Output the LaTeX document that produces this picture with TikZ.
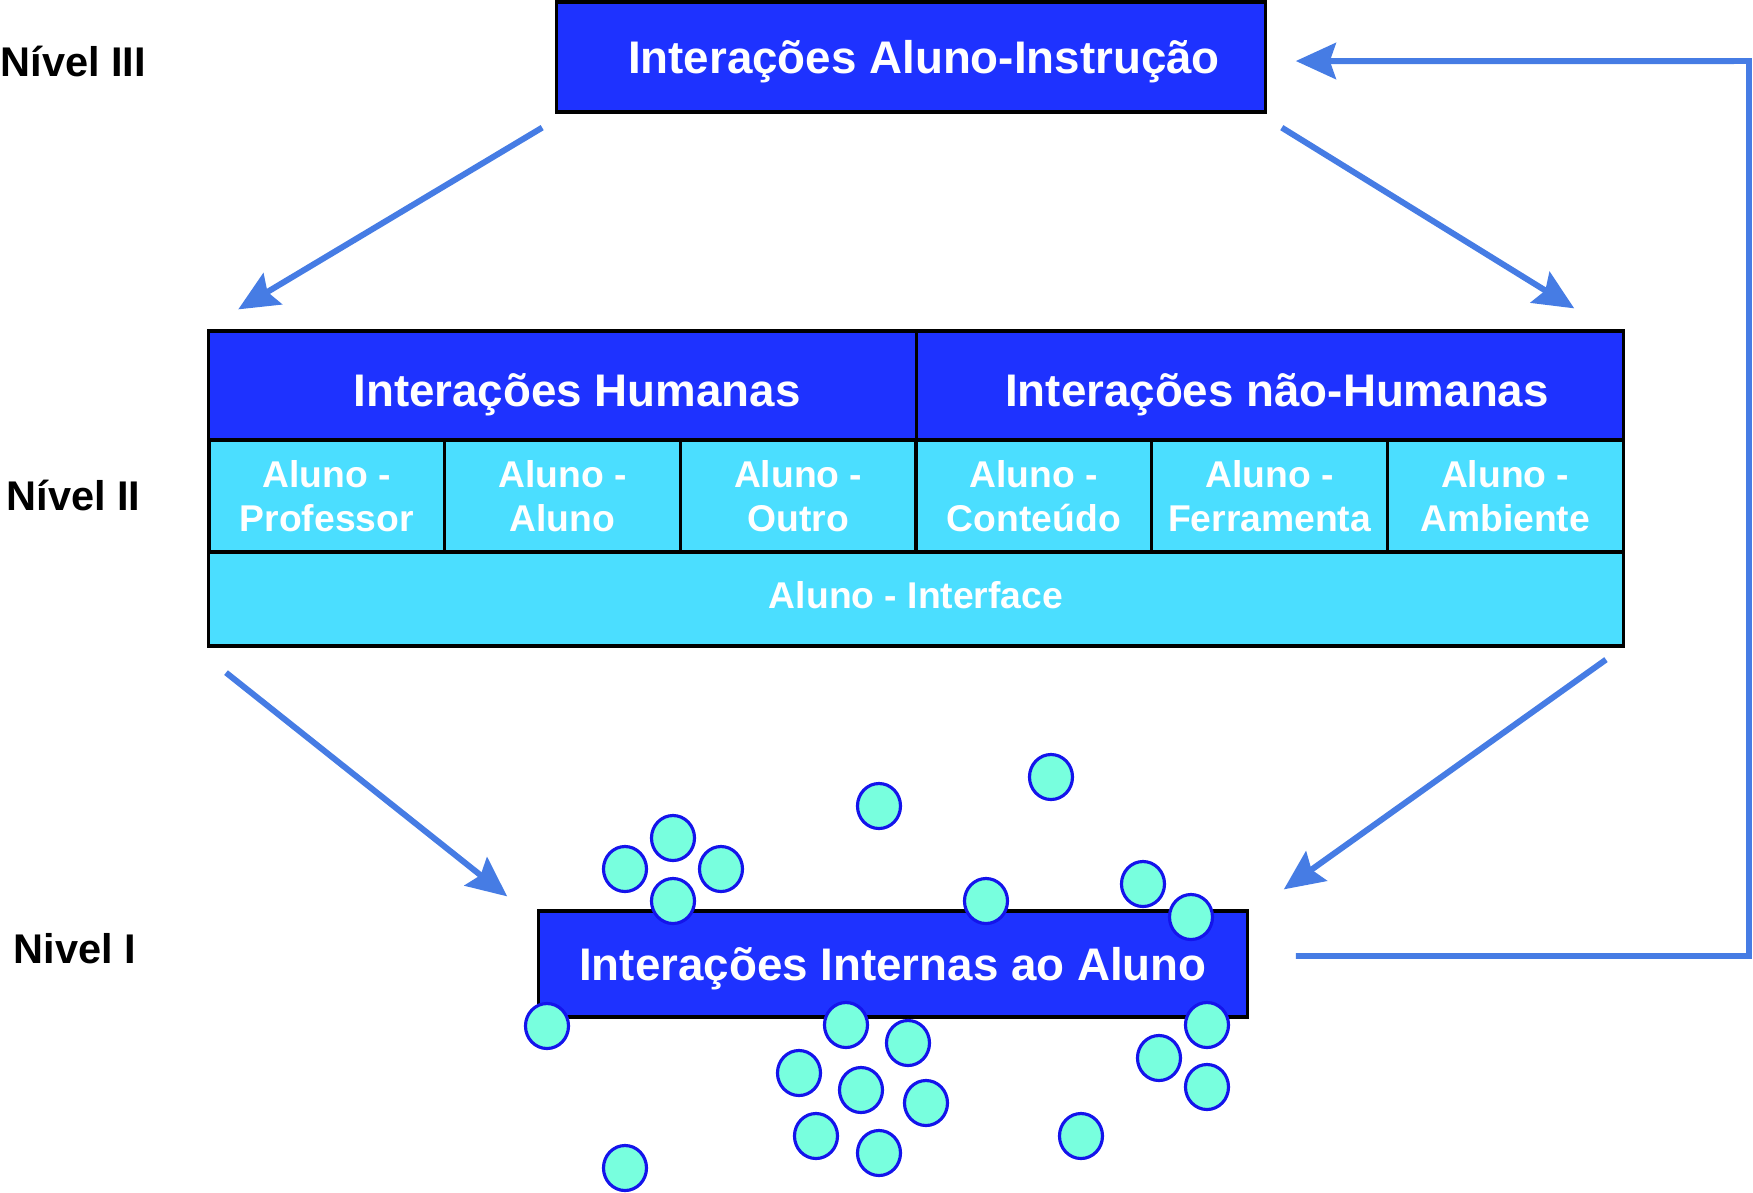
\documentclass[tikz,border=0pt]{standalone}
\usepackage{fontspec}
\setmainfont{Liberation Sans}
\usetikzlibrary{arrows.meta,shapes.geometric}
\definecolor{boxblue}{RGB}{30,50,255}
\definecolor{boxcyan}{RGB}{75,222,255}
\definecolor{flowblue}{RGB}{70,124,228}
\definecolor{dotfill}{RGB}{120,255,222}
\definecolor{dotline}{RGB}{20,20,235}

\begin{document}
\begin{tikzpicture}[x=0.01cm, y=-0.01cm,
  darkbox/.style={rectangle, draw=black, line width=0.9pt, fill=boxblue, text=white, inner sep=0pt, font=\fontsize{13}{15.6}\selectfont\bfseries, text height=9.3pt, text depth=0pt},
  cellbox/.style={rectangle, draw=black, line width=0.9pt, fill=boxcyan, text=white, inner sep=0pt, align=center, font=\fontsize{10.6}{12.6}\selectfont\bfseries},
  levellabel/.style={anchor=base west, inner sep=0pt, font=\fontsize{11.8}{14}\selectfont\bfseries},
  flow/.style={draw=flowblue, line width=1.7pt, -{Stealth[length=0.40cm, width=0.36cm, inset=0.06cm]}},
  dot/.style={ellipse, draw=dotline, line width=0.9pt, fill=dotfill, minimum width=0.43cm, minimum height=0.45cm, inner sep=0pt}]

\useasboundingbox (0,0) rectangle (1753,1193);

% levels
\node[levellabel] (lvl3) at (0,76) {Nível III};
\node[levellabel] (lvl2) at (6,510) {Nível II};
\node[levellabel] (lvl1) at (13,963) {Nivel I};

% level III
\node[darkbox, minimum width=7.08cm, minimum height=1.10cm] (instr) at (911,57) {\hspace*{0.26cm}Interações Aluno-Instrução};

% level II
\node[darkbox, minimum width=7.08cm, minimum height=1.09cm, text height=11.8pt] (hum) at (563,385.5) {\hspace*{0.28cm}Interações Humanas};
\node[darkbox, minimum width=7.07cm, minimum height=1.09cm, text height=11.8pt] (nhum) at (1270,385.5) {\hspace*{0.14cm}Interações não-Humanas};
\foreach \txt [count=\i] in {Professor, Aluno, Outro, Conteúdo, Ferramenta, Ambiente}
  \node[cellbox, minimum width=2.357cm, minimum height=1.12cm] (cell\i) at (209+235.67*\i-117.83, 496) {Aluno -\\\txt};
\node[cellbox, minimum width=14.14cm, minimum height=0.94cm, text depth=0.25em] (iface) at (916,599) {Aluno - Interface};

% level I
\node[darkbox, minimum width=7.08cm, minimum height=1.06cm] (intern) at (893,964) {Interações Internas ao Aluno};

% particles
\foreach \px/\py [count=\k] in {1051/777, 879/806, 673/838, 625/869, 721/869, 673/901, 986/901, 1143/884, 1191/917, 547/1026, 846/1025, 908/1043, 799/1073, 861/1090, 926/1103, 816/1136, 879/1153, 1081/1136, 1207/1025, 1159/1058, 1207/1087, 625/1168}
  \node[dot] (dot\k) at (\px,\py) {};

% arrows
\draw[flow] ([xshift=-0.13cm, yshift=-0.14cm]instr.south west) -- ([xshift=0.31cm, yshift=0.20cm]hum.north west);
\draw[flow] ([xshift=0.15cm, yshift=-0.14cm]instr.south east) -- ([xshift=-0.51cm, yshift=0.21cm]nhum.north east);
\draw[flow] ([xshift=0.19cm, yshift=-0.25cm]iface.south west) -- ([xshift=-0.30cm, yshift=0.13cm]intern.north west);
\draw[flow] ([xshift=-0.19cm, yshift=-0.12cm]iface.south east) -- ([xshift=0.35cm, yshift=0.20cm]intern.north east);
\coordinate (fbcorner) at (1749,61);
\draw[flow] ([xshift=0.47cm, yshift=0.08cm]intern.east) -| (fbcorner) -- ([xshift=0.29cm, yshift=-0.04cm]instr.east);
\end{tikzpicture}
\end{document}
